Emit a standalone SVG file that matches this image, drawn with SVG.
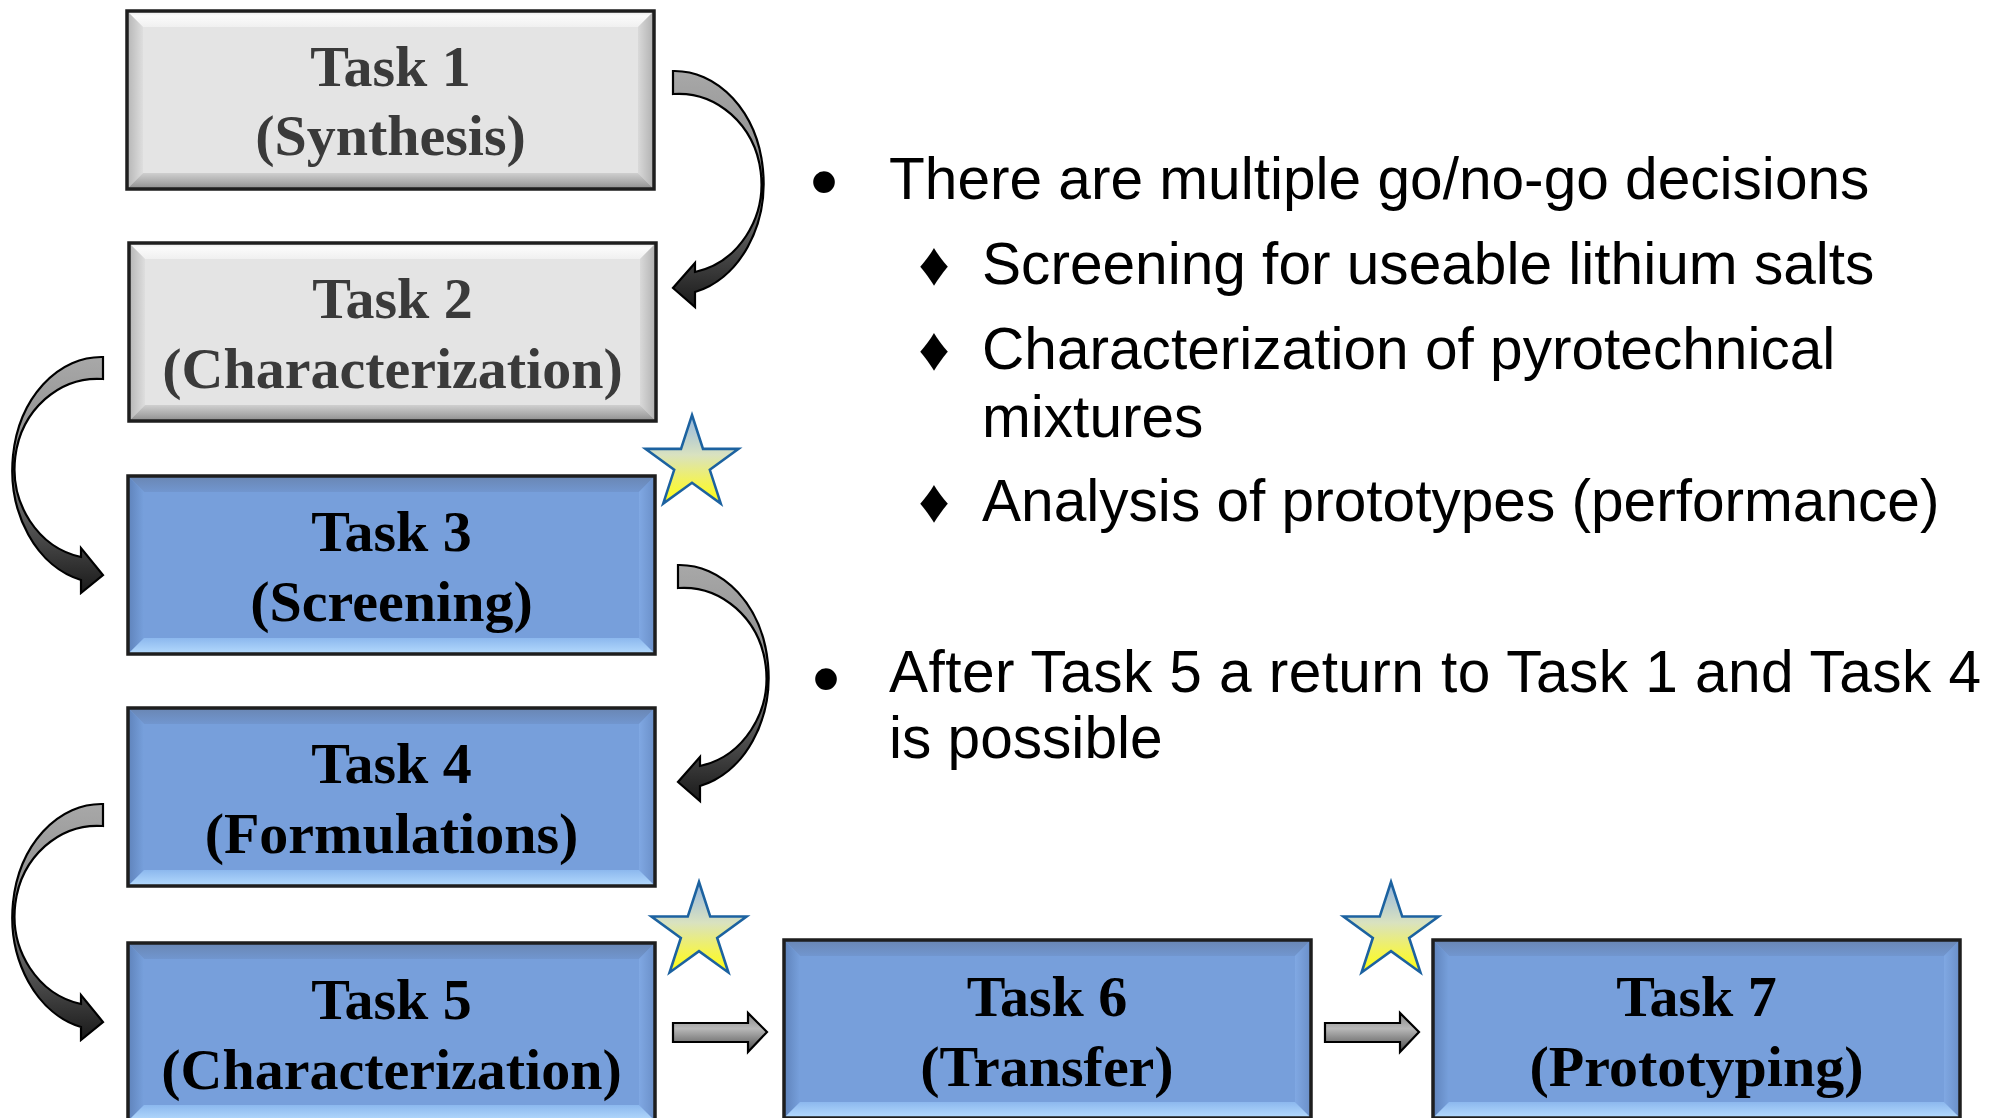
<svg xmlns="http://www.w3.org/2000/svg" width="1994" height="1118" viewBox="0 0 1994 1118">
<style>
.tt{font-family:"Liberation Serif","Times New Roman",serif;font-weight:bold;font-size:58px;text-anchor:middle}
.tg{fill:#3a3a3a}
.tb{fill:#000}
.bt{font-family:"Liberation Sans",Arial,sans-serif;font-size:58.6px;fill:#000}
.dot{font-family:"Liberation Sans",Arial,sans-serif;font-size:80px;fill:#000;text-anchor:middle}
.dia{font-family:"Liberation Sans","DejaVu Sans",sans-serif;font-size:62px;fill:#000;text-anchor:middle}
.edge{stroke:#1e1e1e;stroke-width:3.5;fill:none}
.carrow{fill:url(#gCurve);stroke:#000;stroke-width:2.2;stroke-linejoin:miter}
.harrow{fill:url(#gBlock);stroke:#000;stroke-width:2.2}
.star{fill:url(#gStar);stroke:#1c62a0;stroke-width:2.6}
</style>
<defs>
<linearGradient id="gCurve" x1="0" y1="0" x2="0" y2="1">
<stop offset="0" stop-color="#a8a8a8"/><stop offset="0.45" stop-color="#8a8a8a"/><stop offset="0.85" stop-color="#383838"/><stop offset="1" stop-color="#1a1a1a"/>
</linearGradient>
<linearGradient id="gBlock" x1="0" y1="0" x2="0" y2="1">
<stop offset="0" stop-color="#888"/><stop offset="0.4" stop-color="#b8b8b8"/><stop offset="1" stop-color="#4a4a4a"/>
</linearGradient>
<linearGradient id="gStar" x1="0" y1="0" x2="0" y2="1">
<stop offset="0" stop-color="#94b6e0"/><stop offset="0.45" stop-color="#d9e2c0"/><stop offset="0.75" stop-color="#f2f25a"/><stop offset="1" stop-color="#ffff10"/>
</linearGradient>
<linearGradient id="gGT" x1="0" y1="0" x2="0" y2="1"><stop offset="0" stop-color="#e8e8e8"/><stop offset="0.3" stop-color="#fbfbfb"/><stop offset="1" stop-color="#f0f0f0"/></linearGradient>
<linearGradient id="gGL" x1="0" y1="0" x2="1" y2="0"><stop offset="0" stop-color="#b5b5b5"/><stop offset="1" stop-color="#dedede"/></linearGradient>
<linearGradient id="gGR" x1="0" y1="0" x2="1" y2="0"><stop offset="0" stop-color="#d9d9d9"/><stop offset="1" stop-color="#b0b0b0"/></linearGradient>
<linearGradient id="gGB" x1="0" y1="0" x2="0" y2="1"><stop offset="0" stop-color="#cfcfcf"/><stop offset="0.6" stop-color="#a9a9a9"/><stop offset="1" stop-color="#8c8c8c"/></linearGradient>
<linearGradient id="gBT" x1="0" y1="0" x2="0" y2="1"><stop offset="0" stop-color="#6986b3"/><stop offset="1" stop-color="#7196cf"/></linearGradient>
<linearGradient id="gBL" x1="0" y1="0" x2="1" y2="0"><stop offset="0" stop-color="#5f83bb"/><stop offset="1" stop-color="#77a0dc"/></linearGradient>
<linearGradient id="gBR" x1="0" y1="0" x2="1" y2="0"><stop offset="0" stop-color="#80a8e3"/><stop offset="1" stop-color="#6a8fc8"/></linearGradient>
<linearGradient id="gBB" x1="0" y1="0" x2="0" y2="1"><stop offset="0" stop-color="#8cb8ee"/><stop offset="1" stop-color="#b4dafd"/></linearGradient>
<g id="boxGray">
<rect x="0" y="0" width="527" height="178" fill="#e4e4e4"/>
<polygon points="0,0 527,0 511,16 16,16" fill="url(#gGT)"/>
<polygon points="0,0 16,16 16,162 0,178" fill="url(#gGL)"/>
<polygon points="527,0 511,16 511,162 527,178" fill="url(#gGR)"/>
<polygon points="0,178 16,162 511,162 527,178" fill="url(#gGB)"/>
<rect x="0" y="0" width="527" height="178" class="edge"/>
</g>
<g id="boxBlue">
<rect x="0" y="0" width="527" height="178" fill="#779fdb"/>
<polygon points="0,0 527,0 511,16 16,16" fill="url(#gBT)"/>
<polygon points="0,0 16,16 16,162 0,178" fill="url(#gBL)"/>
<polygon points="527,0 511,16 511,162 527,178" fill="url(#gBR)"/>
<polygon points="0,178 16,162 511,162 527,178" fill="url(#gBB)"/>
<rect x="0" y="0" width="527" height="178" class="edge"/>
</g>
<path id="starShape" d="M0,-50 L11.23,-15.45 L47.55,-15.45 L18.17,5.9 L29.39,40.45 L0,19.1 L-29.39,40.45 L-18.17,5.9 L-47.55,-15.45 L-11.23,-15.45 Z"/>
</defs>
<rect width="1994" height="1118" fill="#fff"/>

<g id="task1" transform="translate(127,11)">
<use href="#boxGray"/>
<text class="tt tg" x="263.5" y="75">Task 1</text>
<text class="tt tg" x="263.5" y="144">(Synthesis)</text>
</g>
<g id="task2" transform="translate(129,243)">
<use href="#boxGray"/>
<text class="tt tg" x="263.5" y="75">Task 2</text>
<text class="tt tg" x="263.5" y="145">(Characterization)</text>
</g>
<g id="task3" transform="translate(128,476)">
<use href="#boxBlue"/>
<text class="tt tb" x="263.5" y="75">Task 3</text>
<text class="tt tb" x="263.5" y="145">(Screening)</text>
</g>
<g id="task4" transform="translate(128,708)">
<use href="#boxBlue"/>
<text class="tt tb" x="263.5" y="75">Task 4</text>
<text class="tt tb" x="263.5" y="145">(Formulations)</text>
</g>
<g id="task5" transform="translate(128,943)">
<use href="#boxBlue"/>
<text class="tt tb" x="263.5" y="76">Task 5</text>
<text class="tt tb" x="263.5" y="146">(Characterization)</text>
</g>
<g id="task6" transform="translate(784,940)">
<use href="#boxBlue"/>
<text class="tt tb" x="263" y="76">Task 6</text>
<text class="tt tb" x="263" y="146">(Transfer)</text>
</g>
<g id="task7" transform="translate(1433,940)">
<use href="#boxBlue"/>
<text class="tt tb" x="263.5" y="76">Task 7</text>
<text class="tt tb" x="263.5" y="146">(Prototyping)</text>
</g>

<g id="connectors">
<path class="carrow" d="M673,71 A89 112 0 0 1 695,292 L695,307 L673,288 L695,263 L695,272 A83 90 0 0 0 673,94 Z"/>
<path class="carrow" d="M103,357 A89 113 0 0 0 81,580 L81,593 L103,575 L81,548 L81,557 A83 90 0 0 1 103,379 Z"/>
<path class="carrow" transform="translate(5,494)" d="M673,71 A89 112 0 0 1 695,292 L695,307 L673,288 L695,263 L695,272 A83 90 0 0 0 673,94 Z"/>
<path class="carrow" transform="translate(0,447)" d="M103,357 A89 113 0 0 0 81,580 L81,593 L103,575 L81,548 L81,557 A83 90 0 0 1 103,379 Z"/>
<path class="harrow" d="M673,1023 L748,1023 L748,1013 L767,1032 L748,1052 L748,1042 L673,1042 Z"/>
<path class="harrow" d="M1325,1023 L1400,1023 L1400,1013 L1419,1032 L1400,1052 L1400,1042 L1325,1042 Z"/>
</g>

<g id="stars">
<use href="#starShape" class="star" transform="translate(692,464) scale(0.98)"/>
<use href="#starShape" class="star" transform="translate(699,932)"/>
<use href="#starShape" class="star" transform="translate(1391,932)"/>
</g>

<g id="notes">
<text class="dot" x="824" y="209">•</text>
<text class="bt" x="889" y="199">There are multiple go/no-go decisions</text>
<text class="dia" x="934" y="285">♦</text>
<text class="bt" x="982" y="284">Screening for useable lithium salts</text>
<text class="dia" x="934" y="370">♦</text>
<text class="bt" x="982" y="369">Characterization of pyrotechnical</text>
<text class="bt" x="982" y="437">mixtures</text>
<text class="dia" x="934" y="522">♦</text>
<text class="bt" x="982" y="521">Analysis of prototypes (performance)</text>
<text class="dot" x="826" y="706">•</text>
<text class="bt" x="889" y="692" textLength="1092" lengthAdjust="spacing">After Task 5 a return to Task 1 and Task 4</text>
<text class="bt" x="889" y="758">is possible</text>
</g>
</svg>
